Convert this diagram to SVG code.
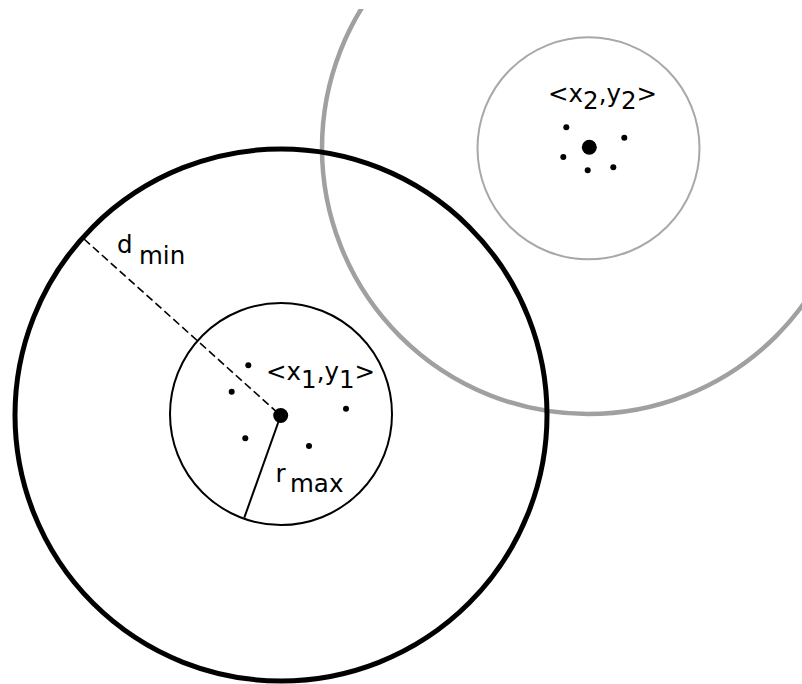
<svg xmlns="http://www.w3.org/2000/svg" width="802" height="684" viewBox="0 0 802 684">
<defs>
<clipPath id="frame"><rect x="0" y="9" width="802" height="675"/></clipPath>
</defs>
<style>
text{font-family:"DejaVu Sans","Liberation Sans",sans-serif;font-size:24.5px;fill:#000}
.dot{fill:#000}
</style>
<rect width="802" height="684" fill="#fff"/>
<g clip-path="url(#frame)">
<g id="cluster2">
<circle cx="588" cy="148" r="266" fill="none" stroke="#a0a0a0" stroke-width="4.5"/>
<circle cx="588.5" cy="148.3" r="111" fill="none" stroke="#a8a8a8" stroke-width="2"/>
<circle class="dot" cx="589.3" cy="147.3" r="7.5"/>
<circle class="dot" cx="566.3" cy="127.3" r="3"/>
<circle class="dot" cx="624.3" cy="137.7" r="3"/>
<circle class="dot" cx="563.3" cy="157" r="3"/>
<circle class="dot" cx="587.7" cy="170.3" r="3"/>
<circle class="dot" cx="613.3" cy="167.3" r="3"/>
<text x="548" y="101.5">&lt;x<tspan dy="7.5">2</tspan><tspan dy="-7.5">,y</tspan><tspan dy="7.5">2</tspan><tspan dy="-7.5">&gt;</tspan></text>
</g>
<g id="cluster1">
<circle cx="281" cy="415" r="266" fill="none" stroke="#000" stroke-width="5"/>
<circle cx="281" cy="414" r="111" fill="none" stroke="#000" stroke-width="2"/>
<circle class="dot" cx="280.7" cy="415.5" r="7.5"/>
<circle class="dot" cx="248.3" cy="365.3" r="3"/>
<circle class="dot" cx="231.7" cy="391.7" r="3"/>
<circle class="dot" cx="346" cy="408.7" r="3"/>
<circle class="dot" cx="245.3" cy="438.3" r="3"/>
<circle class="dot" cx="309" cy="446" r="3"/>
<text x="266" y="380">&lt;x<tspan dy="7.5">1</tspan><tspan dy="-7.5">,y</tspan><tspan dy="7.5">1</tspan><tspan dy="-7.5">&gt;</tspan></text>
</g>
<g id="connectors">
<line x1="84" y1="239" x2="280.7" y2="415.5" stroke="#000" stroke-width="1.6" stroke-dasharray="8,4"/>
<line x1="280.7" y1="415.5" x2="244.3" y2="517.7" stroke="#000" stroke-width="2"/>
</g>
<g id="labels">
<text x="117" y="252.5">d<tspan x="139" y="263.5">min</tspan></text>
<text x="275.5" y="481.5">r<tspan x="290" y="492">max</tspan></text>
</g>
</g>
</svg>
